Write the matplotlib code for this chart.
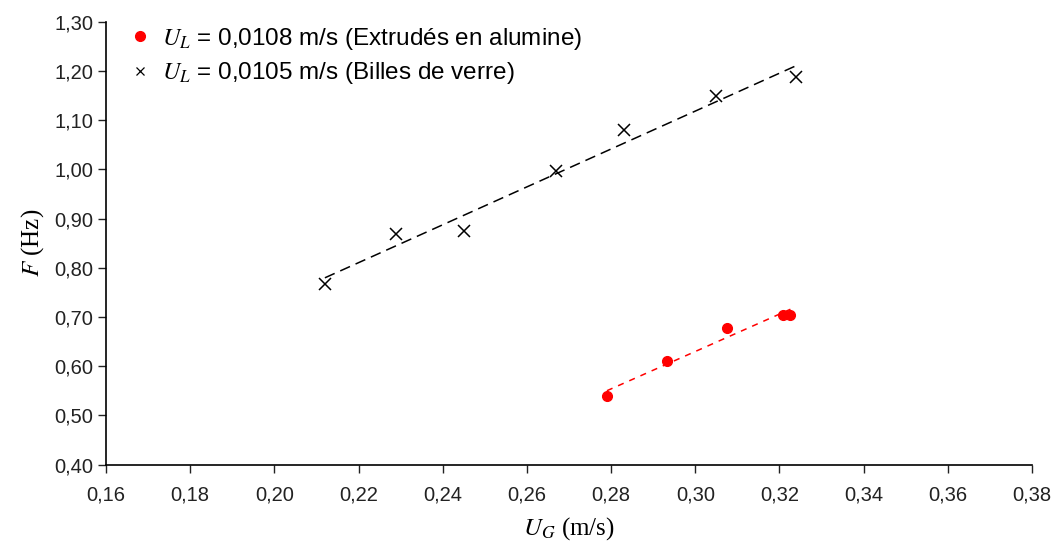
import numpy as np
import matplotlib
matplotlib.use("Agg")
import matplotlib.pyplot as plt
from matplotlib.ticker import FuncFormatter, MultipleLocator

plt.rcParams['font.family'] = ['Liberation Sans', 'DejaVu Sans']
plt.rcParams['font.serif'] = ['Liberation Serif', 'DejaVu Serif']
plt.rcParams['mathtext.fontset'] = 'stix'

# Data
ug_alu = [0.279, 0.2933, 0.3075, 0.3208, 0.3226]
f_alu = [0.540, 0.610, 0.678, 0.705, 0.705]
ug_verre = [0.212, 0.229, 0.245, 0.267, 0.283, 0.305, 0.324]
f_verre = [0.768, 0.868, 0.875, 0.997, 1.080, 1.148, 1.188]
label_alu = r"$U_L$ = 0,0108 m/s (Extrudés en alumine)"
label_verre = r"$U_L$ = 0,0105 m/s (Billes de verre)"

fig = plt.figure(figsize=(10.56, 5.46), dpi=100)
ax = fig.add_axes([0.1004, 0.1489, 0.8769, 0.8114])

# trend lines
for xs, ys, col, dash in [(ug_alu, f_alu, 'red', (4, 4)), (ug_verre, f_verre, 'black', (7, 4))]:
    p = np.polyfit(xs, ys, 1)
    xx = np.array([min(xs), max(xs)])
    ax.plot(xx, np.polyval(p, xx), color=col, lw=1.1, dashes=dash, zorder=2)

ax.plot(ug_alu, f_alu, 'o', color='red', ms=7, ls='none', label=label_alu, zorder=3)
ax.plot(ug_verre, f_verre, 'x', color='black', ms=9, mew=1.1, ls='none', label=label_verre, zorder=3)

ax.set_xlim(0.16, 0.38)
ax.set_ylim(0.40, 1.30)
ax.xaxis.set_major_locator(MultipleLocator(0.02))
ax.yaxis.set_major_locator(MultipleLocator(0.10))
fmt = FuncFormatter(lambda v, pos: f"{v:.2f}".replace('.', ','))
ax.xaxis.set_major_formatter(fmt)
ax.yaxis.set_major_formatter(fmt)
ax.tick_params(direction='out', length=6, width=1, labelsize=14.5, colors='#222222')
ax.tick_params(axis='x', pad=9)
ax.tick_params(axis='y', pad=3)
for s in ['top', 'right']:
    ax.spines[s].set_visible(False)
for s in ['left', 'bottom']:
    ax.spines[s].set_linewidth(1.2)

ax.set_xlabel(r"$U_G$ (m/s)", fontsize=18, family='serif', labelpad=8)
ax.set_ylabel(r"$F$ (Hz)", fontsize=18, family='serif', labelpad=6)

leg = ax.legend(loc='upper left', bbox_to_anchor=(0.005, 1.04), frameon=False, fontsize=17.5,
                handlelength=0.6, handletextpad=0.6, labelspacing=0.35, borderaxespad=0.5)
leg.legend_handles[1].set_markersize(6)
leg.legend_handles[1].set_markeredgewidth(0.9)

fig.savefig("out.png", dpi=100)
